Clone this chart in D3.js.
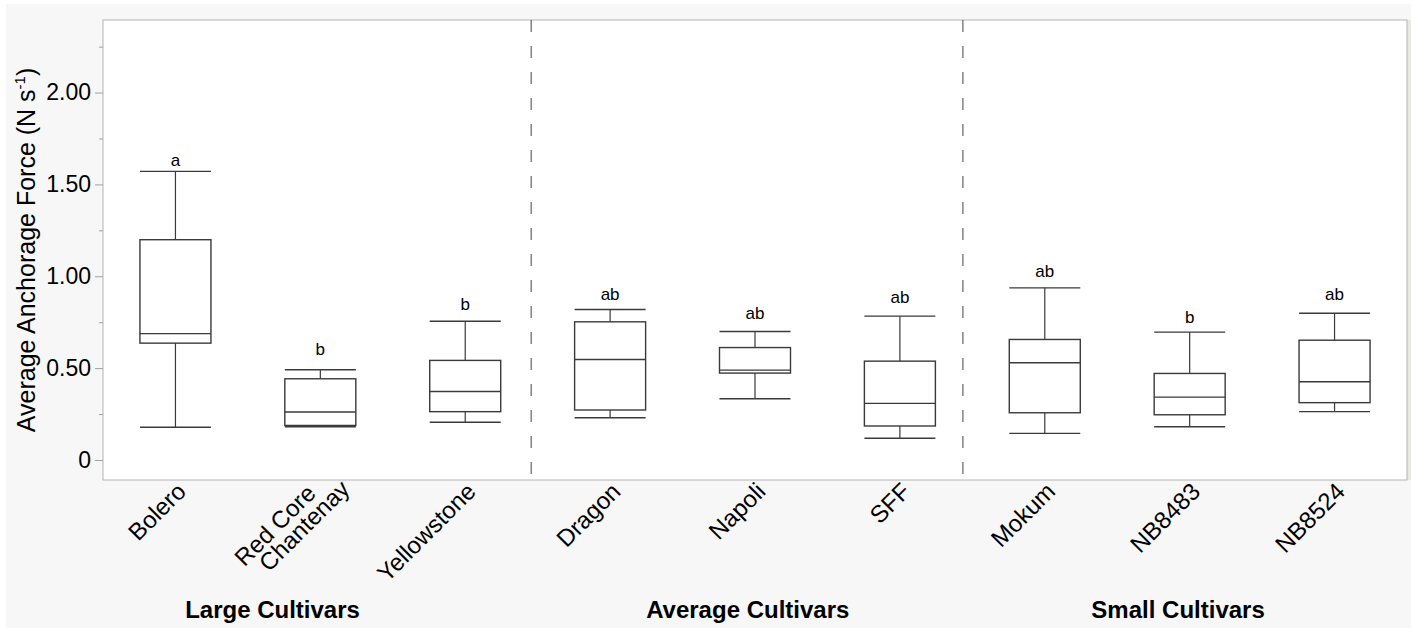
<!DOCTYPE html>
<html>
<head>
<meta charset="utf-8">
<script src="https://cdn.jsdelivr.net/npm/d3@7"></script>
<style>
  html, body { margin: 0; padding: 0; background: #ffffff; }
  svg { display: block; font-family: "Liberation Sans", Arial, sans-serif; }
</style>
</head>
<body>
<svg id="chart" width="1411" height="628"></svg>
<script>
// Cultivars in plotting order
const categories = ["Bolero", "Red Core Chantenay", "Yellowstone", "Dragon", "Napoli", "SFF", "Mokum", "NB8483", "NB8524"];
// Multi-line versions of the tick labels
const categoryLines = [["Bolero"], ["Red Core", "Chantenay"], ["Yellowstone"], ["Dragon"], ["Napoli"], ["SFF"], ["Mokum"], ["NB8483"], ["NB8524"]];

// Box-plot summaries (N s^-1)
const whiskerLow  = [0.178, 0.181, 0.205, 0.230, 0.333, 0.118, 0.145, 0.181, 0.263];
const quartile1   = [0.636, 0.188, 0.263, 0.272, 0.473, 0.185, 0.257, 0.246, 0.312];
const medians     = [0.688, 0.261, 0.373, 0.547, 0.489, 0.308, 0.529, 0.342, 0.426];
const quartile3   = [1.199, 0.442, 0.542, 0.752, 0.612, 0.538, 0.656, 0.471, 0.652];
const whiskerHigh = [1.571, 0.491, 0.755, 0.819, 0.699, 0.783, 0.937, 0.696, 0.799];

// Significance letters and the value at which each sits
const letters  = ["a", "b", "b", "ab", "ab", "ab", "ab", "b", "ab"];
const letterAt = [1.602, 0.571, 0.819, 0.870, 0.766, 0.855, 0.996, 0.746, 0.870];

// Size groups, separators and group-label centres in category-index units
const groups         = ["Large Cultivars", "Average Cultivars", "Small Cultivars"];
const groupCentres   = [0.67, 3.95, 6.92];
const separators     = [2.455, 5.435];

// Axis ticks
const yMajorTicks = [0, 0.5, 1.0, 1.5, 2.0];
const yMinorTicks = [0.25, 0.75, 1.25, 1.75, 2.25];
const yDomain     = [-0.109, 2.395];

const svg = d3.select("#chart");
const W = 1411, H = 628;
const plot = { left: 103, right: 1407, top: 20, bottom: 480 };

// Panel backgrounds
svg.append("rect").attr("x", 6).attr("y", 4).attr("width", W - 6).attr("height", H - 4).attr("fill", "#f7f7f7");
svg.append("rect").attr("x", plot.right).attr("y", plot.top).attr("width", W - plot.right).attr("height", plot.bottom - plot.top).attr("fill", "#e9e9e1");
svg.append("rect")
  .attr("x", plot.left).attr("y", plot.top)
  .attr("width", plot.right - plot.left).attr("height", plot.bottom - plot.top)
  .attr("fill", "#ffffff").attr("stroke", "#b4b4b4").attr("stroke-width", 1);

// Scales
const x = d3.scaleBand().domain(categories).range([plot.left, plot.right]).padding(0);
const xi = d3.scaleLinear().domain([-0.5, categories.length - 0.5]).range([plot.left, plot.right]);
const y = d3.scaleLinear().domain(yDomain).range([plot.bottom, plot.top]);

// Y axis: major ticks with labels, minor ticks without
const yAxis = d3.axisLeft(y).tickValues(yMajorTicks).tickSize(8).tickPadding(4)
  .tickFormat(d => d === 0 ? "0" : d3.format(".2f")(d));
const gy = svg.append("g").attr("transform", `translate(${plot.left},0)`).call(yAxis);
gy.select(".domain").remove();
gy.selectAll(".tick line").attr("stroke", "#a0a0a0");
gy.selectAll(".tick text").attr("font-size", 23).attr("fill", "#000").attr("font-family", "Liberation Sans, Arial, sans-serif");

const yMinor = d3.axisLeft(y).tickValues(yMinorTicks).tickSize(4).tickFormat("");
const gyMinor = svg.append("g").attr("transform", `translate(${plot.left},0)`).call(yMinor);
gyMinor.select(".domain").remove();
gyMinor.selectAll(".tick line").attr("stroke", "#a0a0a0");

// Y axis title with superscript unit
const yTitle = svg.append("text")
  .attr("transform", `translate(35,250) rotate(-90)`)
  .attr("text-anchor", "middle")
  .attr("font-size", 25)
  .attr("fill", "#000");
yTitle.append("tspan").text("Average Anchorage Force (N s");
yTitle.append("tspan").attr("font-size", 15).attr("dy", -10).text("-1");
yTitle.append("tspan").attr("dy", 10).text(")");

// Group separators
svg.selectAll("line.sep").data(separators).join("line")
  .attr("class", "sep")
  .attr("x1", d => xi(d)).attr("x2", d => xi(d))
  .attr("y1", plot.top).attr("y2", plot.bottom)
  .attr("stroke", "#444").attr("stroke-width", 1)
  .attr("stroke-dasharray", "12,14");

// Box plots
const boxes = categories.map((c, i) => ({
  name: c, lo: whiskerLow[i], q1: quartile1[i], med: medians[i], q3: quartile3[i], hi: whiskerHigh[i],
  letter: letters[i], letterAt: letterAt[i]
}));

const boxW = x.bandwidth() * 0.49;
const gBox = svg.selectAll("g.box").data(boxes).join("g")
  .attr("class", "box")
  .attr("transform", d => `translate(${x(d.name) + x.bandwidth() / 2},0)`);

const stroke = "#3a3a3a";
gBox.append("line").attr("x1", 0).attr("x2", 0).attr("y1", d => y(d.hi)).attr("y2", d => y(d.q3)).attr("stroke", stroke).attr("stroke-width", 1.2);
gBox.append("line").attr("x1", 0).attr("x2", 0).attr("y1", d => y(d.q1)).attr("y2", d => y(d.lo)).attr("stroke", stroke).attr("stroke-width", 1.2);
gBox.append("line").attr("x1", -boxW / 2).attr("x2", boxW / 2).attr("y1", d => y(d.hi)).attr("y2", d => y(d.hi)).attr("stroke", stroke).attr("stroke-width", 1.4);
gBox.append("line").attr("x1", -boxW / 2).attr("x2", boxW / 2).attr("y1", d => y(d.lo)).attr("y2", d => y(d.lo)).attr("stroke", stroke).attr("stroke-width", 1.4);
gBox.append("rect")
  .attr("x", -boxW / 2).attr("width", boxW)
  .attr("y", d => y(d.q3)).attr("height", d => y(d.q1) - y(d.q3))
  .attr("fill", "none").attr("stroke", stroke).attr("stroke-width", 1.4);
gBox.append("line").attr("x1", -boxW / 2).attr("x2", boxW / 2).attr("y1", d => y(d.med)).attr("y2", d => y(d.med)).attr("stroke", stroke).attr("stroke-width", 1.4);

gBox.append("text")
  .attr("x", 0).attr("y", d => y(d.letterAt))
  .attr("text-anchor", "middle").attr("font-size", 17).attr("fill", "#000")
  .text(d => d.letter);

// Category tick labels, rotated
const gx = svg.selectAll("g.xlab").data(categories.map((c, i) => ({ name: c, lines: categoryLines[i] }))).join("g")
  .attr("class", "xlab")
  .attr("transform", d => `translate(${x(d.name) + x.bandwidth() / 2 + 6},487) rotate(-45)`);
gx.each(function(d) {
  const t = d3.select(this).append("text")
    .attr("text-anchor", "end").attr("font-size", 24).attr("fill", "#000");
  if (d.lines.length === 1) {
    t.append("tspan").attr("x", 0).attr("dy", "0.35em").text(d.lines[0]);
  } else {
    t.append("tspan").attr("x", -12).attr("dy", -1).text(d.lines[0]);
    t.append("tspan").attr("x", 15).attr("dy", 21).text(d.lines[1]);
  }
});

// Group labels
svg.selectAll("text.group").data(groups).join("text")
  .attr("class", "group")
  .attr("x", (d, i) => xi(groupCentres[i]))
  .attr("y", 617.5)
  .attr("text-anchor", "middle").attr("font-size", 24).attr("font-weight", "bold").attr("fill", "#000")
  .text(d => d);
</script>
</body>
</html>
